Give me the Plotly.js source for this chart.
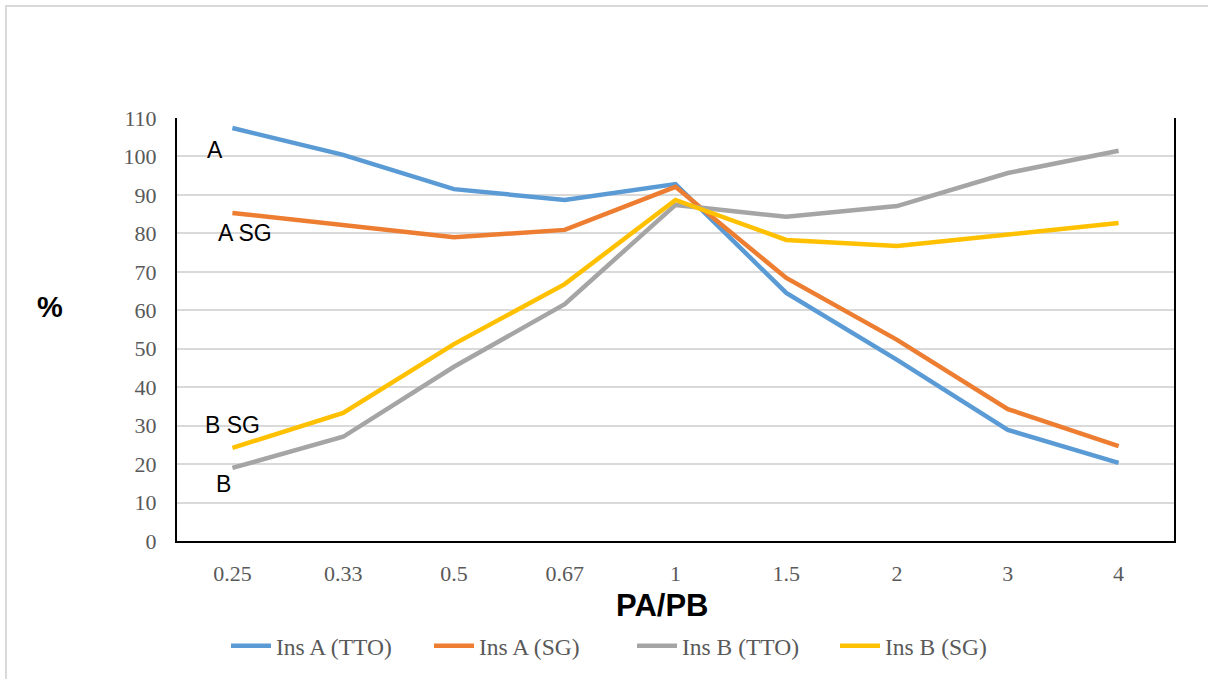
<!DOCTYPE html>
<html>
<head>
<meta charset="utf-8">
<script src="https://cdn.plot.ly/plotly-3.0.1.min.js"></script>
<style>
  html, body { margin: 0; padding: 0; background: #fff; }
  #chart { width: 1208px; height: 679px; }
</style>
</head>
<body>
<div id="chart"></div>
<script>
// PA/PB ratio categories
const ratios = ['0.25', '0.33', '0.5', '0.67', '1', '1.5', '2', '3', '4'];

// Percentage values per series
const insA_TTO = [107.4, 100.4, 91.5, 88.7, 92.8, 64.5, 47.1, 28.9, 20.3];
const insA_SG  = [85.3, 82.2, 79.0, 80.9, 92.1, 68.4, 52.3, 34.3, 24.7];
const insB_TTO = [19.0, 27.1, 45.3, 61.6, 87.4, 84.3, 87.1, 95.7, 101.5];
const insB_SG  = [24.2, 33.3, 51.2, 66.8, 88.7, 78.3, 76.7, 79.6, 82.7];

const seriesNames = ['Ins A (TTO)', 'Ins A (SG)', 'Ins B (TTO)', 'Ins B (SG)'];
const seriesColors = ['#5B9BD5', '#ED7D31', '#A5A5A5', '#FFC000'];
const seriesValues = [insA_TTO, insA_SG, insB_TTO, insB_SG];

// Inline labels placed beside the start of each line
const labelTexts = ['A', 'A SG', 'B SG', 'B'];
const labelX = [-0.16, 0.11, 0.0, -0.08];
const labelY = [101.7, 80.1, 30.2, 14.8];

const traces = seriesValues.map((vals, i) => ({
  type: 'scatter',
  mode: 'lines',
  name: seriesNames[i],
  x: ratios,
  y: vals,
  line: { color: seriesColors[i], width: 4.5 },
  hoverinfo: 'x+y+name'
}));

const sans = 'Liberation Sans, Arial, sans-serif';
const serif = 'Liberation Serif, Times New Roman, serif';

const annotations = labelTexts.map((t, i) => ({
  x: labelX[i], y: labelY[i], xref: 'x', yref: 'y',
  text: t, showarrow: false,
  font: { family: sans, size: 23, color: '#000' }
}));

// Axis titles (horizontal "%" on the left, "PA/PB" under the ticks)
annotations.push({
  xref: 'paper', yref: 'paper', x: -127 / 997, y: (541 - 307) / 423,
  xanchor: 'center', yanchor: 'middle',
  text: '<b>%</b>', showarrow: false,
  font: { family: sans, size: 29, color: '#000' }
});
annotations.push({
  xref: 'paper', yref: 'paper', x: (662 - 177) / 997, y: (541 - 605) / 423,
  xanchor: 'center', yanchor: 'middle',
  text: '<b>PA/PB</b>', showarrow: false,
  font: { family: sans, size: 31, color: '#000' }
});

const layout = {
  width: 1208,
  height: 679,
  paper_bgcolor: '#fff',
  plot_bgcolor: '#fff',
  margin: { l: 177, r: 34, t: 118, b: 138, autoexpand: false },
  showlegend: true,
  legend: {
    orientation: 'h',
    x: (226 - 177) / 997, xanchor: 'left',
    y: (541 - 646) / 423, yanchor: 'middle',
    font: { family: serif, size: 23.5, color: '#595959' },
    itemwidth: 40,
    entrywidth: 148, entrywidthmode: 'pixels'
  },
  xaxis: {
    type: 'category',
    range: [-0.5, 8.5],
    showgrid: false,
    showline: true, linecolor: '#000', linewidth: 2,
    ticks: '',
    ticklabelstandoff: 12,
    tickfont: { family: serif, size: 22, color: '#595959' },
    fixedrange: true
  },
  yaxis: {
    range: [0, 110],
    dtick: 10,
    tick0: 0,
    showgrid: true, gridcolor: '#D9D9D9', gridwidth: 2,
    zeroline: false,
    showline: true, linecolor: '#000', linewidth: 2, mirror: true,
    ticks: '',
    ticklabelstandoff: 14,
    tickfont: { family: serif, size: 22, color: '#595959' },
    fixedrange: true
  },
  annotations: annotations,
  shapes: [
    {
      type: 'rect', xref: 'paper', yref: 'paper',
      x0: -171 / 997, x1: 1240 / 997,
      y0: -170 / 423, y1: 1 + 112 / 423,
      line: { color: '#D9D9D9', width: 2 },
      fillcolor: 'rgba(0,0,0,0)',
      layer: 'below'
    }
  ]
};

Plotly.newPlot('chart', traces, layout, { displayModeBar: false });
</script>
</body>
</html>
